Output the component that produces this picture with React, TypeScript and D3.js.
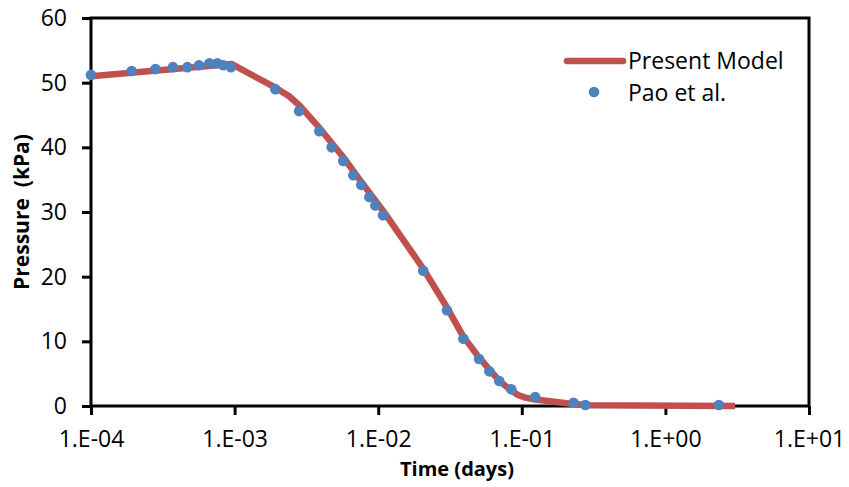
import React, { useEffect, useRef } from "react";
import * as d3 from "d3";

const modelTime = [1e-4, 9.5e-4, 1.9e-3, 2.4e-3, 2.85e-3, 3.9e-3, 5.7e-3, 7.6e-3, 1.08e-2, 2.05e-2, 3.0e-2, 3.9e-2, 5.0e-2, 6.9e-2, 8.3e-2, 9.4e-2, 0.106, 0.124, 0.227, 0.3, 3.05];
const modelPressure = [51.0, 52.9, 49.3, 47.9, 46.4, 43.0, 38.5, 34.7, 30.2, 21.3, 15.3, 10.8, 7.6, 4.0, 2.5, 1.7, 1.3, 1.0, 0.3, 0.1, 0.0];

const paoTime = [1.0e-4, 1.92e-4, 2.81e-4, 3.72e-4, 4.69e-4, 5.65e-4, 6.67e-4, 7.58e-4, 8.34e-4, 9.44e-4, 1.92e-3, 2.81e-3, 3.89e-3, 4.74e-3, 5.71e-3, 6.71e-3, 7.62e-3, 8.67e-3, 9.55e-3, 1.08e-2, 2.06e-2, 3.01e-2, 3.92e-2, 5.04e-2, 5.94e-2, 6.97e-2, 8.45e-2, 0.124, 0.229, 0.277, 2.36];
const paoPressure = [51.2, 51.8, 52.1, 52.4, 52.4, 52.7, 53.0, 53.0, 52.7, 52.4, 49.0, 45.6, 42.5, 40.0, 37.9, 35.7, 34.2, 32.3, 31.0, 29.5, 20.9, 14.8, 10.4, 7.27, 5.36, 3.87, 2.58, 1.39, 0.51, 0.15, 0.15];

const xTickValues = [1e-4, 1e-3, 1e-2, 1e-1, 1e0, 1e1];
const xTickLabels = ["1.E-04", "1.E-03", "1.E-02", "1.E-01", "1.E+00", "1.E+01"];
const yTickValues = [0, 10, 20, 30, 40, 50, 60];

const seriesNames = ["Present Model", "Pao et al."];
const xTitle = "Time (days)";
const yTitle = "Pressure\u00a0 (kPa)";

const W = 849;
const H = 487;
const L = 91, R = 809, T = 18, B = 406;
const RED = "#C0504D";
const BLUE = "#4F81BD";
const FONT = "'Open Sans', 'Noto Sans', sans-serif";

export default function App() {
  const xAxisRef = useRef<SVGGElement>(null);
  const yAxisRef = useRef<SVGGElement>(null);

  const x = d3.scaleLog().domain([1e-4, 1e1]).range([L, R]);
  const y = d3.scaleLinear().domain([0, 60]).range([B, T]);

  useEffect(() => {
    if (xAxisRef.current) {
      const g = d3.select(xAxisRef.current);
      g.selectAll("*").remove();
      g.call(
        d3.axisBottom(x)
          .tickValues(xTickValues)
          .tickFormat((_d, i) => xTickLabels[i])
          .tickSize(9)
          .tickPadding(16)
      );
      g.select(".domain").remove();
      g.selectAll(".tick line").attr("stroke", "#000").attr("stroke-width", 3);
      g.selectAll(".tick text")
        .attr("fill", "#000")
        .style("font-family", FONT)
        .style("font-size", "23px");
    }
    if (yAxisRef.current) {
      const g = d3.select(yAxisRef.current);
      g.selectAll("*").remove();
      g.call(
        d3.axisLeft(y)
          .tickValues(yTickValues)
          .tickFormat(d3.format("d"))
          .tickSize(9)
          .tickPadding(15)
      );
      g.select(".domain").remove();
      g.selectAll(".tick line").attr("stroke", "#000").attr("stroke-width", 3);
      g.selectAll(".tick text")
        .attr("fill", "#000")
        .style("font-family", FONT)
        .style("font-size", "23px");
    }
  }, []);

  const model = modelTime.map((t, i) => [t, modelPressure[i]] as [number, number]);
  const line = d3
    .line<[number, number]>()
    .x((d) => x(d[0]))
    .y((d) => y(d[1]));

  return (
    <svg width={W} height={H} style={{ position: "absolute", left: 0, top: 0, background: "#fff" }}>
      <rect x={0} y={0} width={W} height={H} fill="#fff" />
      <g ref={yAxisRef} transform={`translate(${L},0)`} />
      <g ref={xAxisRef} transform={`translate(0,${B})`} />
      <rect x={L} y={T} width={R - L} height={B - T} fill="none" stroke="#000" strokeWidth={3} />
      <path d={line(model) || ""} fill="none" stroke={RED} strokeWidth={6.5} strokeLinejoin="round" />
      {paoTime.map((t, i) => (
        <circle key={i} cx={x(t)} cy={y(paoPressure[i])} r={5.3} fill={BLUE} />
      ))}
      <g>
        <line x1={567} x2={623} y1={61} y2={61} stroke={RED} strokeWidth={6.5} strokeLinecap="round" />
        <text x={628} y={61} dy="0.35em" fontFamily={FONT} fontSize={23} fill="#000">{seriesNames[0]}</text>
        <circle cx={594} cy={92} r={5.3} fill={BLUE} />
        <text x={628} y={93} dy="0.35em" fontFamily={FONT} fontSize={23} fill="#000">{seriesNames[1]}</text>
      </g>
      <text x={457} y={469} dy="0.35em" textAnchor="middle" fontFamily={FONT} fontSize={20} fontWeight="bold" fill="#000">{xTitle}</text>
      <text transform={`translate(22,${(T + B) / 2}) rotate(-90)`} dy="0.35em" textAnchor="middle" fontFamily={FONT} fontSize={21} fontWeight="bold" fill="#000">{yTitle}</text>
    </svg>
  );
}
